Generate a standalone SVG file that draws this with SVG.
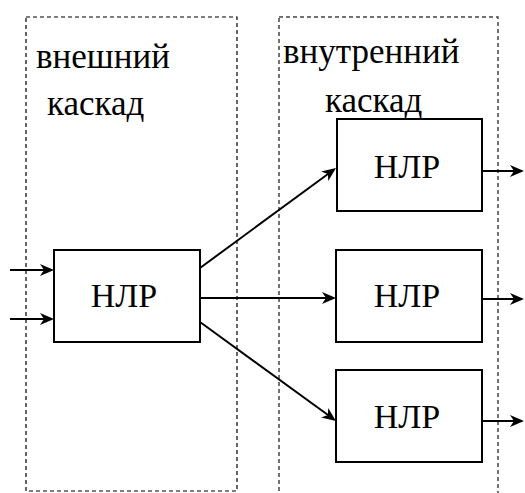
<svg xmlns="http://www.w3.org/2000/svg" width="525" height="493" viewBox="0 0 525 493">
  <defs>
    <style>
      .frame { fill: none; stroke: #000; stroke-width: 1.2; stroke-dasharray: 4 3; }
      .frame2 { fill: none; stroke: #444; stroke-width: 1.5; stroke-dasharray: 4 3; }
      .box { fill: #fff; stroke: #000; stroke-width: 2; }
      .wire { fill: none; stroke: #000; stroke-width: 2; }
      .head { fill: #000; stroke: none; }
      .t { font-family: "Liberation Serif", "DejaVu Serif", serif; fill: #000; }
    </style>
  </defs>

  <!-- cascade frames -->
  <g id="outer-cascade">
    <rect class="frame" x="26" y="17" width="211" height="474"/>
    <text class="t" font-size="35" x="36" y="68">внешний</text>
    <text class="t" font-size="35" x="47" y="115">каскад</text>
  </g>
  <g id="inner-cascade">
    <rect class="frame2" x="279" y="17" width="219" height="480"/>
    <text class="t" font-size="35" x="283" y="63">внутренний</text>
    <text class="t" font-size="35" x="325" y="112">каскад</text>
  </g>

  <!-- connectors: shafts stop short of the tip, heads drawn as filled paths -->
  <g id="connectors">
    <line class="wire" x1="10" y1="270" x2="44" y2="270"/>
    <path class="head" d="M54,270 L40,264 L44,270 L40,276 Z"/>
    <line class="wire" x1="10" y1="319" x2="44" y2="319"/>
    <path class="head" d="M54,319 L40,313 L44,319 L40,325 Z"/>

    <line class="wire" x1="200" y1="268" x2="328" y2="174"/>
    <path class="head" transform="translate(336,168) rotate(-36.3)" d="M0,0 L-14,-6 L-10,0 L-14,6 Z"/>
    <line class="wire" x1="200" y1="298" x2="326" y2="298"/>
    <path class="head" d="M336,298 L322,292 L326,298 L322,304 Z"/>
    <line class="wire" x1="200" y1="322" x2="328" y2="415"/>
    <path class="head" transform="translate(336,421) rotate(36.1)" d="M0,0 L-14,-6 L-10,0 L-14,6 Z"/>

    <line class="wire" x1="482" y1="171" x2="514" y2="171"/>
    <path class="head" d="M524,171 L510,165 L514,171 L510,177 Z"/>
    <line class="wire" x1="482" y1="299" x2="514" y2="299"/>
    <path class="head" d="M524,299 L510,293 L514,299 L510,305 Z"/>
    <line class="wire" x1="482" y1="421" x2="514" y2="421"/>
    <path class="head" d="M524,421 L510,415 L514,421 L510,427 Z"/>
  </g>

  <!-- nodes -->
  <g id="nlr-in">
    <rect class="box" x="54" y="250" width="146" height="92"/>
    <text class="t" font-size="34" text-anchor="middle" x="124" y="307">НЛР</text>
  </g>
  <g id="nlr-out-1">
    <rect class="box" x="337" y="119" width="145" height="92"/>
    <text class="t" font-size="34" text-anchor="middle" x="407" y="178">НЛР</text>
  </g>
  <g id="nlr-out-2">
    <rect class="box" x="336" y="250" width="146" height="92"/>
    <text class="t" font-size="34" text-anchor="middle" x="407" y="307">НЛР</text>
  </g>
  <g id="nlr-out-3">
    <rect class="box" x="336" y="370" width="146" height="92"/>
    <text class="t" font-size="34" text-anchor="middle" x="407" y="428">НЛР</text>
  </g>
</svg>
